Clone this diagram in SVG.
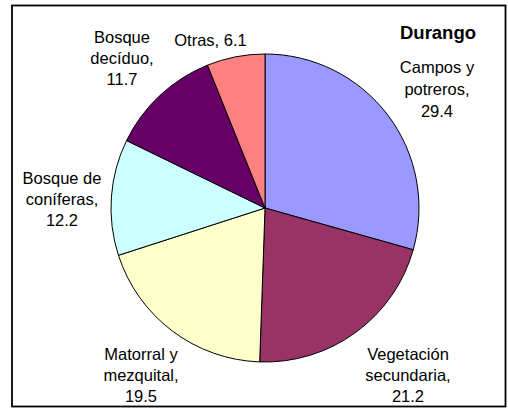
<svg xmlns="http://www.w3.org/2000/svg" width="508" height="409" viewBox="0 0 508 409">
<style>
.lbl{font-family:"Liberation Sans",Arial,sans-serif;font-size:16.5px;fill:#000;text-anchor:middle}
.title{font-family:"Liberation Sans",Arial,sans-serif;font-size:18.5px;font-weight:bold;fill:#000;text-anchor:middle}
.slice{stroke:#000;stroke-width:1;stroke-linejoin:round}
</style>
<rect x="0" y="0" width="508" height="409" fill="#fff"/>
<rect x="12" y="5.5" width="493.5" height="401" fill="#fff" stroke="#000" stroke-width="1.8"/>
<g id="pie">
<g id="campos"><path class="slice" fill="#9999FF" d="M265,208 L265,54 A154,154 0 0 1 413.23,249.75 Z"/></g>
<g id="vegetacion"><path class="slice" fill="#993366" d="M265,208 L413.23,249.75 A154,154 0 0 1 259.68,361.91 Z"/></g>
<g id="matorral"><path class="slice" fill="#FFFFCC" d="M265,208 L259.68,361.91 A154,154 0 0 1 118.45,255.31 Z"/></g>
<g id="coniferas"><path class="slice" fill="#CCFFFF" d="M265,208 L118.45,255.31 A154,154 0 0 1 126.56,140.54 Z"/></g>
<g id="deciduo"><path class="slice" fill="#660066" d="M265,208 L126.56,140.54 A154,154 0 0 1 207.46,65.15 Z"/></g>
<g id="otras"><path class="slice" fill="#FF8080" d="M265,208 L207.46,65.15 A154,154 0 0 1 265,54 Z"/></g>
</g>
<g id="labels">
<text class="title" x="438" y="39">Durango</text>
<text class="lbl" x="437" y="73">Campos y</text>
<text class="lbl" x="437" y="95">potreros,</text>
<text class="lbl" x="437" y="117">29.4</text>
<text class="lbl" x="408" y="360">Vegetación</text>
<text class="lbl" x="408" y="381">secundaria,</text>
<text class="lbl" x="408" y="402">21.2</text>
<text class="lbl" x="141" y="360">Matorral y</text>
<text class="lbl" x="141" y="381">mezquital,</text>
<text class="lbl" x="141" y="402">19.5</text>
<text class="lbl" x="62" y="184">Bosque de</text>
<text class="lbl" x="62" y="205">coníferas,</text>
<text class="lbl" x="62" y="226">12.2</text>
<text class="lbl" x="122" y="43">Bosque</text>
<text class="lbl" x="122" y="64">decíduo,</text>
<text class="lbl" x="122" y="85">11.7</text>
<text class="lbl" x="210.5" y="46">Otras, 6.1</text>
</g>
</svg>
